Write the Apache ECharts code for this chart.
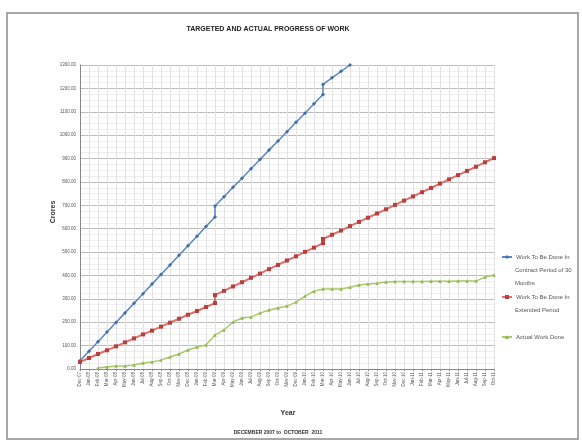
<!DOCTYPE html>
<html>
<head>
<meta charset="utf-8">
<script src="https://cdn.jsdelivr.net/npm/echarts@6/dist/echarts.min.js"></script>
<style>html,body{margin:0;padding:0;background:#fff;}#c{width:582px;height:442px;}</style>
</head>
<body>
<div id="c"></div>
<script>
// ---- data ----
var categories = ['Dec-07','Jan-08','Feb-08','Mar-08','Apr-08','May-08','Jun-08','Jul-08','Aug-08','Sep-08','Oct-08','Nov-08',
  'Dec-08','Jan-09','Feb-09','Mar-09','Apr-09','May-09','Jun-09','Jul-09','Aug-09','Sep-09','Oct-09','Nov-09',
  'Dec-09','Jan-10','Feb-10','Mar-10','Apr-10','May-10','Jun-10','Jul-10','Aug-10','Sep-10','Oct-10','Nov-10',
  'Dec-10','Jan-11','Feb-11','Mar-11','Apr-11','May-11','Jun-11','Jul-11','Aug-11','Sep-11','Oct-11'];

var contractMonths = ['Dec-07','Jan-08','Feb-08','Mar-08','Apr-08','May-08','Jun-08','Jul-08','Aug-08','Sep-08','Oct-08','Nov-08',
  'Dec-08','Jan-09','Feb-09','Mar-09','Mar-09','Apr-09','May-09','Jun-09','Jul-09','Aug-09','Sep-09','Oct-09','Nov-09',
  'Dec-09','Jan-10','Feb-10','Mar-10','Mar-10','Apr-10','May-10','Jun-10'];
var contractValues = [35,76,117,158,199,240,281,322,363,404,445,486,
  527,568,609,650,697,737,777,816,856,896,936,975,1015,
  1055,1094,1134,1174,1217,1245,1273,1300];

var extendedMonths = ['Dec-07','Jan-08','Feb-08','Mar-08','Apr-08','May-08','Jun-08','Jul-08','Aug-08','Sep-08','Oct-08','Nov-08',
  'Dec-08','Jan-09','Feb-09','Mar-09','Mar-09','Apr-09','May-09','Jun-09','Jul-09','Aug-09','Sep-09','Oct-09','Nov-09',
  'Dec-09','Jan-10','Feb-10','Mar-10','Mar-10','Apr-10','May-10','Jun-10','Jul-10','Aug-10','Sep-10','Oct-10','Nov-10',
  'Dec-10','Jan-11','Feb-11','Mar-11','Apr-11','May-11','Jun-11','Jul-11','Aug-11','Sep-11','Oct-11'];
var extendedValues = [30,47,64,80,97,114,131,148,164,181,198,215,
  232,248,265,282,316,334,353,371,390,408,427,445,464,
  482,501,519,538,556,574,592,611,629,647,665,683,702,
  720,738,756,774,793,811,829,847,865,884,902];

var actualValues = [null,null,4,9,13,13,17,26,30,38,51,64,
  81,94,103,145,167,201,218,222,239,252,261,269,
  286,312,333,342,342,342,350,359,363,367,372,374,
  374,374,374,375,375,375,376,376,376,393,402];

var yTicks = {min:0, max:1300, step:100};
var seriesNames = ['Work To Be Done In\nContract Period of 30\nMonths','Work To Be Done In\nExtended Period','Actual Work Done'];
var legendTops = [257, 297, 337];

function pairs(months, vals){
  return months.map(function(m,i){ return [categories.indexOf(m), vals[i]]; });
}

var FONT = '"Liberation Sans Narrow","Liberation Sans",Arial,sans-serif';
var chart = echarts.init(document.getElementById('c'), null, {renderer:'canvas'});

var legends = [], extraText = [];
seriesNames.forEach(function(n, k){
  var lines = n.split('\n');
  legends.push({
    orient:'vertical', left:501, top:legendTops[k]-6, padding:0, itemWidth:10, itemHeight:5, itemGap:0,
    data:[n], selectedMode:false,
    formatter:function(name){ return name.split('\n')[0]; },
    textStyle:{fontFamily:FONT, fontSize:6, color:'#555', lineHeight:12, padding:[0,0,0,-1]}
  });
  for (var j = 1; j < lines.length; j++) {
    extraText.push({type:'text', x:515, y:legendTops[k] + 13*j,
      style:{text:lines[j], font:'6px '+FONT, fill:'#555', textAlign:'left', textVerticalAlign:'middle'}});
  }
});

chart.setOption({
  animation:false,
  backgroundColor:'#fff',
  grid:{left:80, right:88, top:65, bottom:73, containLabel:false},
  graphic:[
    {type:'rect', shape:{x:7, y:13, width:571, height:426}, style:{fill:'none', stroke:'#a8a8a8', lineWidth:2}, silent:true, z:-1},
    {type:'text', x:268, y:29, style:{text:'TARGETED AND ACTUAL PROGRESS OF WORK', font:'bold 7px '+FONT, fill:'#222', textAlign:'center', textVerticalAlign:'middle'}},
    {type:'text', x:53, y:212, rotation:Math.PI/2, style:{text:'Crores', font:'bold 7px '+FONT, fill:'#333', textAlign:'center', textVerticalAlign:'middle'}},
    {type:'text', x:288, y:413, style:{text:'Year', font:'bold 7px '+FONT, fill:'#333', textAlign:'center', textVerticalAlign:'middle'}},
    {type:'text', x:278, y:433, style:{text:'DECEMBER 2007 to  OCTOBER  2011', font:'bold 5px '+FONT, fill:'#333', textAlign:'center', textVerticalAlign:'middle'}}
  ].concat(extraText),
  legend:legends,
  xAxis:{
    type:'category', data:categories, boundaryGap:false,
    axisLine:{lineStyle:{color:'#888', width:1}},
    axisTick:{show:true, interval:0, length:2, lineStyle:{color:'#888'}},
    axisLabel:{interval:0, rotate:90, fontSize:4.5, color:'#555', fontFamily:FONT, margin:3},
    splitLine:{show:true, interval:0, lineStyle:{color:'#e2e2e2', width:1}}
  },
  yAxis:{
    type:'value', min:yTicks.min, max:yTicks.max, interval:yTicks.step,
    axisLine:{show:true, lineStyle:{color:'#888'}},
    axisTick:{show:false},
    axisLabel:{fontSize:4.5, color:'#555', fontFamily:FONT, margin:4, formatter:function(v){return v.toFixed(2);}},
    splitLine:{show:true, lineStyle:{color:'#bcbcbc', width:1}},
    minorTick:{show:false, splitNumber:4},
    minorSplitLine:{show:true, lineStyle:{color:'#efefef', width:1}}
  },
  series:[
    {name:seriesNames[0], type:'line', data:pairs(contractMonths, contractValues),
     symbol:'diamond', symbolSize:4, showSymbol:true,
     lineStyle:{color:'#5a86bf', width:1.5}, itemStyle:{color:'#3f6ea8'}},
    {name:seriesNames[1], type:'line', data:pairs(extendedMonths, extendedValues),
     symbol:'rect', symbolSize:4, showSymbol:true,
     lineStyle:{color:'#e0706c', width:2}, itemStyle:{color:'#b5403c'}},
    {name:seriesNames[2], type:'line', data:actualValues, connectNulls:false,
     symbol:'triangle', symbolSize:3.5, showSymbol:true,
     lineStyle:{color:'#a9c86a', width:1.5}, itemStyle:{color:'#93b356'}}
  ]
});
</script>
</body>
</html>
